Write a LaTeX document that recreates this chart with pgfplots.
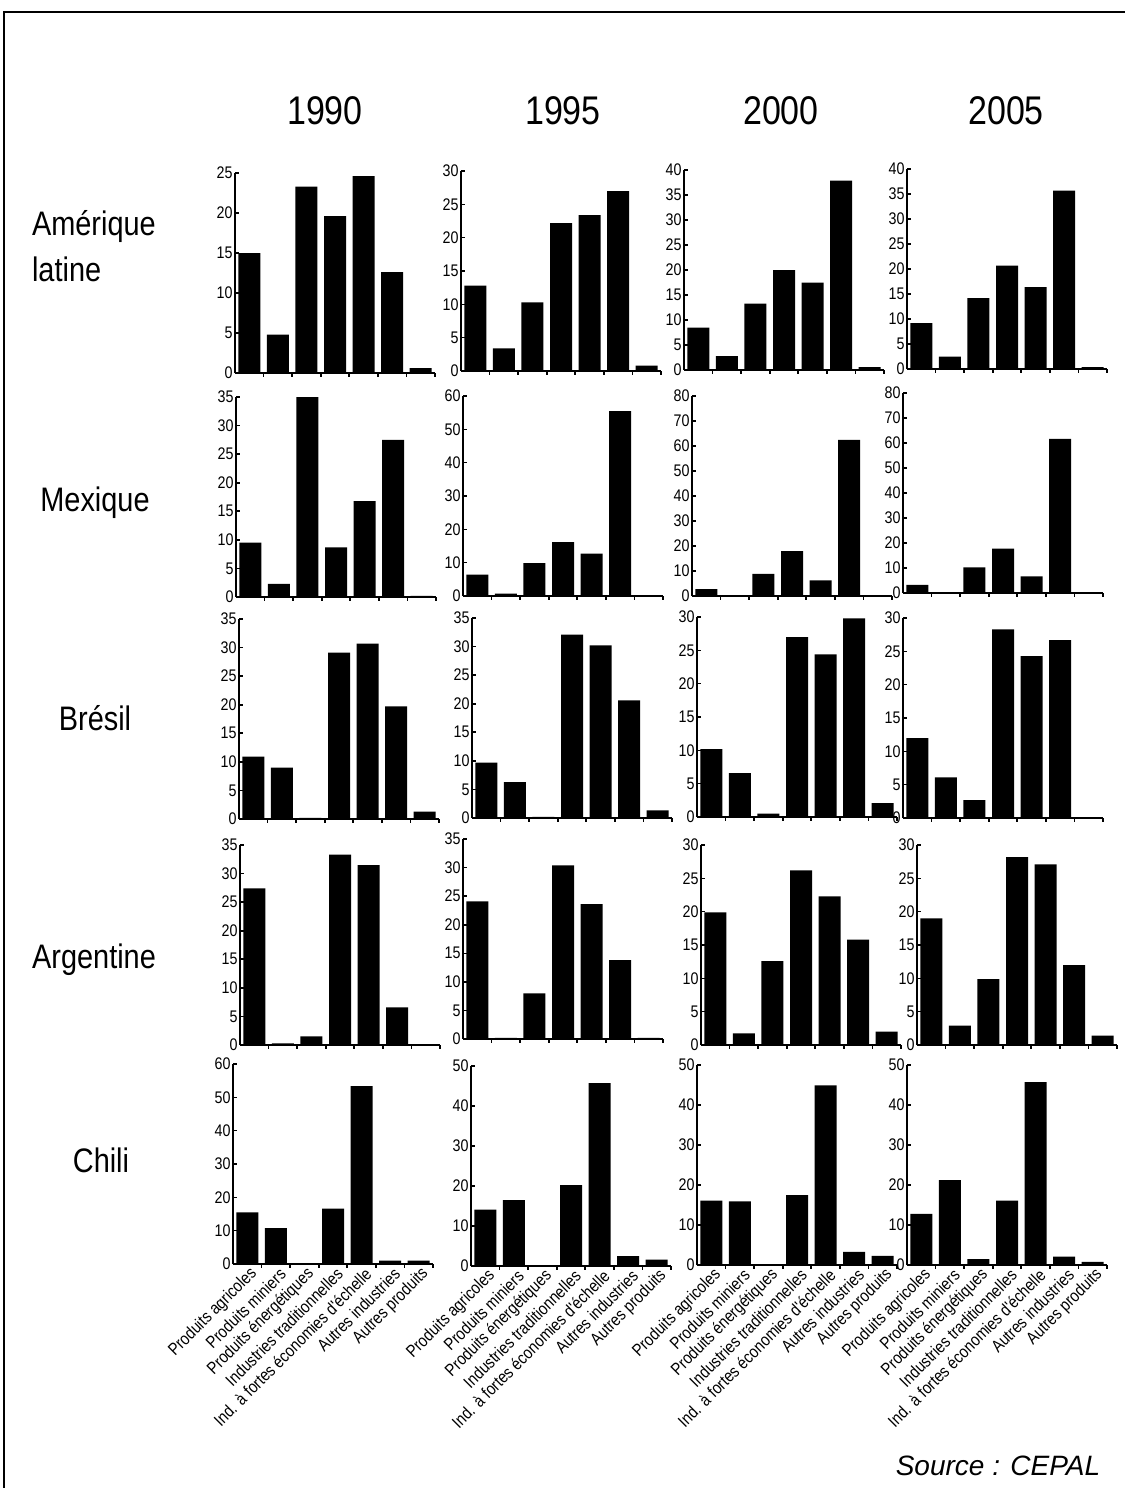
\documentclass[border=0pt]{standalone}
\usepackage{fontspec}
\setmainfont{Liberation Sans}
\newfontfamily\narrow{Liberation Sans}[FakeStretch=0.85]
\usepackage{pgfplots}
\pgfplotsset{compat=1.18}

\pgfplotsset{
  panel/.style={
    scale only axis, width=100pt, height=100pt,
    anchor=south west,
    xmin=0, xmax=7, ymin=0,
    axis x line=bottom, axis y line=left,
    axis line style={line width=1pt,-},
    tick align=inside,
    major tick length=1.8pt,
    tick style={line width=0.8pt, black},
    xtick={1,...,7}, xticklabels=\empty,
    yticklabel style={font=\narrow\fontsize{8.4}{9}\selectfont, inner sep=1pt},
    /pgf/number format/assume math mode=true,
    ybar, bar width=11pt,
    clip=false,
  },
  cats/.style={
    extra x ticks={0.5,1.5,...,6.5},
    extra x tick labels={Produits agricoles, Produits miniers, Produits énergétiques,
      Industries traditionnelles, Ind. à fortes économies d'échelle,
      Autres industries, Autres produits},
    extra x tick style={major tick length=0pt,
      tick label style={rotate=45, anchor=east, yshift=-5pt, xshift=1pt,
        font=\narrow\fontsize{8.6}{9}\selectfont, inner sep=1pt}},
  },
}

% #2 x of y axis (px), #3 y of zero line (px), #4 ymax, #5 step, #6 data
\newcommand{\panel}[6][]{%
  \begin{axis}[panel, #1, at={({#2*0.5pt},{-#3*0.5pt})}, ymax=#4,
      ytick={0,#5,...,#4}]
    \addplot[fill=black, draw=none] coordinates {#6};
  \end{axis}}

\begin{document}
\begin{tikzpicture}[x=0.5pt, y=-0.5pt]
\path[use as bounding box] (0,0) rectangle (1125,1488);
\begin{scope}
\clip (0,0) rectangle (1125,1488);
\draw[line width=1.2pt] (1124.5,12) -- (4,12) -- (4,1488);
\end{scope}

% years
\foreach \yr/\xx in {1990/325, 1995/563, 2000/781, 2005/1006}
  \node[font=\narrow\fontsize{20}{22}\selectfont] at (\xx,111) {\yr};

% countries
\node[font=\narrow\fontsize{17}{23}\selectfont, align=left, anchor=west] at (25,246)
  {Amérique\\latine};
\node[font=\narrow\fontsize{17}{20}\selectfont] at (95,503) {Mexique};
\node[font=\narrow\fontsize{17}{20}\selectfont] at (95,718) {Brésil};
\node[font=\narrow\fontsize{17}{20}\selectfont] at (94,960) {Argentine};
\node[font=\narrow\fontsize{17}{20}\selectfont] at (101,1160) {Chili};

% Amérique latine
\panel{235}{373}{25}{5}{(0.5,15.0) (1.5,4.8) (2.5,23.3) (3.5,19.6) (4.5,24.6) (5.5,12.6) (6.5,0.6)}
\panel{461}{371}{30}{5}{(0.5,12.8) (1.5,3.4) (2.5,10.3) (3.5,22.2) (4.5,23.4) (5.5,27.0) (6.5,0.8)}
\panel{684}{370}{40}{5}{(0.5,8.5) (1.5,2.8) (2.5,13.3) (3.5,20.0) (4.5,17.5) (5.5,37.9) (6.5,0.6)}
\panel{907}{369}{40}{5}{(0.5,9.2) (1.5,2.5) (2.5,14.2) (3.5,20.7) (4.5,16.4) (5.5,35.7) (6.5,0.4)}

% Mexique
\panel{236}{597}{35}{5}{(0.5,9.5) (1.5,2.3) (2.5,35.0) (3.5,8.7) (4.5,16.8) (5.5,27.5) (6.5,0.2)}
\panel{463}{596}{60}{10}{(0.5,6.4) (1.5,0.7) (2.5,9.9) (3.5,16.2) (4.5,12.7) (5.5,55.5) (6.5,0.3)}
\panel{692}{596}{80}{10}{(0.5,2.8) (1.5,0.1) (2.5,8.9) (3.5,18.0) (4.5,6.3) (5.5,62.5) (6.5,0.1)}
\panel{903}{593}{80}{10}{(0.5,3.3) (1.5,0.2) (2.5,10.3) (3.5,17.8) (4.5,6.7) (5.5,61.7) (6.5,0.1)}

% Brésil
\panel{239}{819}{35}{5}{(0.5,10.9) (1.5,9.0) (2.5,0.2) (3.5,29.1) (4.5,30.7) (5.5,19.7) (6.5,1.3)}
\panel{472}{818}{35}{5}{(0.5,9.7) (1.5,6.3) (2.5,0.2) (3.5,32.1) (4.5,30.2) (5.5,20.6) (6.5,1.35)}
\panel{697}{817}{30}{5}{(0.5,10.2) (1.5,6.6) (2.5,0.5) (3.5,27.0) (4.5,24.4) (5.5,29.8) (6.5,2.1)}
\panel{903}{818}{30}{5}{(0.5,12.0) (1.5,6.1) (2.5,2.7) (3.5,28.3) (4.5,24.3) (5.5,26.7) (6.5,0.1)}

% Argentine
\panel{240}{1045}{35}{5}{(0.5,27.4) (1.5,0.3) (2.5,1.5) (3.5,33.3) (4.5,31.5) (5.5,6.6) (6.5,0.1)}
\panel{463}{1039}{35}{5}{(0.5,24.1) (1.5,0.2) (2.5,8.0) (3.5,30.4) (4.5,23.6) (5.5,13.8) (6.5,0.2)}
\panel{701}{1045}{30}{5}{(0.5,19.9) (1.5,1.75) (2.5,12.6) (3.5,26.2) (4.5,22.3) (5.5,15.8) (6.5,2.0)}
\panel{917}{1045}{30}{5}{(0.5,19.0) (1.5,2.9) (2.5,9.9) (3.5,28.2) (4.5,27.1) (5.5,12.0) (6.5,1.4)}

% Chili
\panel[cats]{233}{1264}{60}{10}{(0.5,15.5) (1.5,10.8) (2.5,0.2) (3.5,16.6) (4.5,53.4) (5.5,1.0) (6.5,1.0)}
\panel[cats]{471}{1266}{50}{10}{(0.5,14.1) (1.5,16.5) (2.5,0.1) (3.5,20.2) (4.5,45.7) (5.5,2.5) (6.5,1.6)}
\panel[cats]{697}{1265}{50}{10}{(0.5,16.1) (1.5,15.9) (2.5,0.1) (3.5,17.5) (4.5,44.9) (5.5,3.3) (6.5,2.3)}
\panel[cats]{907}{1265}{50}{10}{(0.5,12.8) (1.5,21.2) (2.5,1.5) (3.5,16.1) (4.5,45.7) (5.5,2.1) (6.5,0.8)}

\node[font=\itshape\fontsize{14}{16}\selectfont] at (998,1466) {Source : CEPAL};
\end{tikzpicture}
\end{document}
